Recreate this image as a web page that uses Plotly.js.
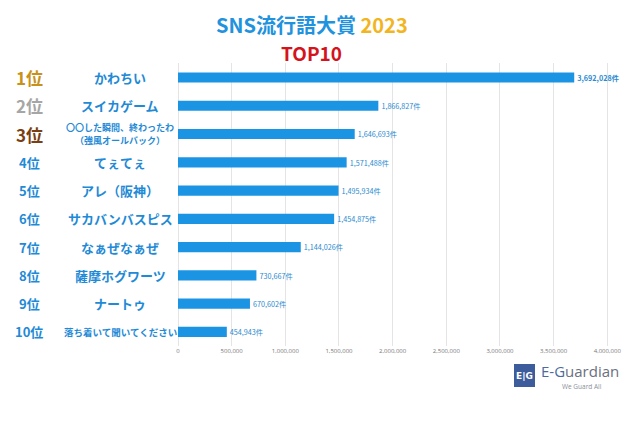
<!DOCTYPE html>
<html>
<head>
<meta charset="utf-8">
<script src="https://cdn.plot.ly/plotly-3.0.1.min.js"></script>
<style>html,body{margin:0;padding:0;background:#fff;}#chart{width:640px;height:442px;}</style>
</head>
<body>
<div id="chart"></div>
<script>
// ---- data ----
const ranks = ['1位','2位','3位','4位','5位','6位','7位','8位','9位','10位'];
const words = ['かわちい','スイカゲーム','〇〇した瞬間、終わったわ（強風オールバック）','てぇてぇ','アレ（阪神）','サカバンバスピス','なぁぜなぁぜ','薩摩ホグワーツ','ナートゥ','落ち着いて聞いてください'];
const wordLines = [['かわちい'],['スイカゲーム'],['〇〇した瞬間、終わったわ','（強風オールバック）'],['てぇてぇ'],['アレ（阪神）'],['サカバンバスピス'],['なぁぜなぁぜ'],['薩摩ホグワーツ'],['ナートゥ'],['落ち着いて聞いてください']];
const counts = [3692028, 1866827, 1646693, 1571488, 1495934, 1454875, 1144026, 730667, 670602, 454943];
const tickVals = [0, 500000, 1000000, 1500000, 2000000, 2500000, 3000000, 3500000, 4000000];
const tickLabels = ['0','500,000','1,000,000','1,500,000','2,000,000','2,500,000','3,000,000','3,500,000','4,000,000'];

// ---- layout geometry ----
const W = 640, H = 442;
const L = 178, R = 22, T = 63, B = 96;
const pw = W - L - R, ph = H - T - B;
const px = x => (x - L) / pw;
const py = y => (H - B - y) / ph;

const FONT = '"Noto Sans CJK JP", "Noto Sans", sans-serif';
const BLUE = '#1f8ad6';
const rankColors = ['#c8921a', '#a6a6a6', '#7a3f12'];

const annotations = [];
ranks.forEach((r, i) => {
  const top = i < 3;
  annotations.push({
    text: '<b>' + r + '</b>', xref: 'paper', yref: 'y', x: px(29), y: words[i],
    xanchor: 'center', yanchor: 'middle', showarrow: false,
    font: {family: FONT, size: top ? 17 : 13, color: top ? rankColors[i] : BLUE}
  });
});
words.forEach((w, i) => {
  const lines = wordLines[i];
  const multi = lines.length > 1;
  const small = (multi || i === 9);
  lines.forEach((ln, k) => {
    const shift = multi ? (k === 0 ? 6.5 : -6.5) : 0;
    annotations.push({
      text: '<b>' + ln + '</b>', xref: 'paper', yref: 'y', x: px(120), y: w, yshift: shift,
      xanchor: 'center', yanchor: 'middle', showarrow: false, borderpad: 0,
      font: {family: FONT, size: multi ? 9 : (small ? 9.5 : 13), color: BLUE}
    });
  });
});
// titles
annotations.push({
  text: '<b>SNS流行語大賞 <span style="color:#f2b51f">2023</span></b>',
  xref: 'paper', yref: 'paper', x: px(312), y: py(25), xanchor: 'center', yanchor: 'middle',
  showarrow: false, font: {family: FONT, size: 20, color: '#2192de'}
});
annotations.push({
  text: '<b>TOP10</b>',
  xref: 'paper', yref: 'paper', x: px(311), y: py(53), xanchor: 'center', yanchor: 'middle',
  showarrow: false, font: {family: FONT, size: 19, color: '#d4141c'}
});
// logo
annotations.push({
  text: '<b>E|G</b>', xref: 'paper', yref: 'paper', x: px(524.5), y: py(375.5),
  xanchor: 'center', yanchor: 'middle', showarrow: false,
  font: {family: '"DejaVu Sans", sans-serif', size: 9, color: '#ffffff'}
});
annotations.push({
  text: '<span style="color:#4a6aa0">E-G</span>uardian', xref: 'paper', yref: 'paper', x: px(539), y: py(371),
  xanchor: 'left', yanchor: 'middle', showarrow: false,
  font: {family: '"Open Sans", "Noto Sans", sans-serif', size: 15, color: '#6a7080'}
});
annotations.push({
  text: 'We Guard All', xref: 'paper', yref: 'paper', x: px(582), y: py(386),
  xanchor: 'center', yanchor: 'middle', showarrow: false,
  font: {family: '"Open Sans", sans-serif', size: 6.5, color: '#8a8f9a'}
});

const trace = {
  type: 'bar', orientation: 'h',
  x: counts, y: words,
  width: 0.36,
  marker: {color: '#1c94e4'},
  text: counts.map((v, i) => (i === 0 ? '<b>' : '') + v.toLocaleString('en-US') + '件' + (i === 0 ? '</b>' : '')),
  textposition: 'outside',
  cliponaxis: false,
  textfont: {family: FONT, size: 8.5, color: '#2a8ad0'},
  hoverinfo: 'none'
};

const layout = {
  width: W, height: H,
  margin: {l: L, r: R, t: T, b: B, pad: 0},
  paper_bgcolor: '#ffffff', plot_bgcolor: '#ffffff',
  showlegend: false,
  xaxis: {
    range: [0, 4100000], tickvals: tickVals, ticktext: tickLabels,
    showgrid: true, gridcolor: '#e4e4e4', gridwidth: 1, zeroline: true, zerolinecolor: '#e4e4e4',
    showline: false, ticks: '',
    tickfont: {family: '"Open Sans", sans-serif', size: 6, color: '#777777'}
  },
  yaxis: {
    type: 'category', categoryorder: 'array', categoryarray: words,
    autorange: 'reversed', showticklabels: false, showgrid: false, zeroline: false, ticks: ''
  },
  shapes: [{
    type: 'rect', xref: 'paper', yref: 'paper',
    x0: px(514), x1: px(535), y0: py(387), y1: py(364),
    fillcolor: '#3d5c9c', line: {width: 0}
  }],
  annotations: annotations
};

Plotly.newPlot('chart', [trace], layout, {displayModeBar: false, staticPlot: true});
</script>
</body>
</html>
